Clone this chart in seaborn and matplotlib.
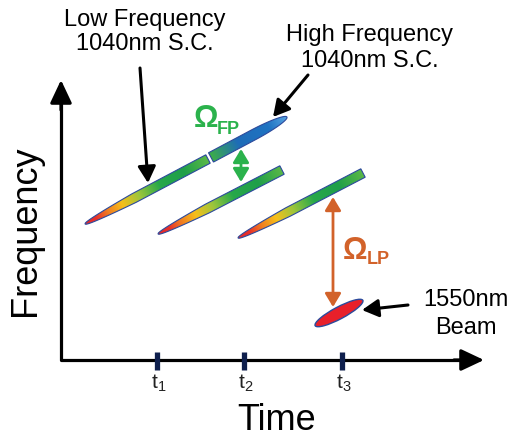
import numpy as np
import matplotlib
matplotlib.use("Agg")
import matplotlib.pyplot as plt
import seaborn as sns
from matplotlib.colors import LinearSegmentedColormap
from matplotlib.patches import Polygon, Ellipse

# ---------------- data (schematic, pixel-like coordinates) ----------------
tick_labels = ["t$_1$", "t$_2$", "t$_3$"]
tick_x = [157, 244, 342]
axis_origin = [61, 360]
axis_x_end = 484
axis_y_end = 80

# low-frequency supercontinuum pulses: red tail -> blunt green end
pulse_tail_x = [85, 158, 238]
pulse_tail_y = [224, 234, 238]
pulse_end_x = [208, 282, 363]
pulse_end_y = [159, 170, 173]
# high-frequency part of the first pulse
hf_start_x, hf_start_y = 211, 157.4
hf_tip_x, hf_tip_y = 287, 117
# 1550 nm beam
beam_x, beam_y = 339, 313
beam_len, beam_wid, beam_ang = 54, 12, -28

# ---------------- style ----------------
sns.set_theme(style="white")
plt.rcParams['font.family'] = ['Liberation Sans', 'DejaVu Sans']
plt.rcParams['mathtext.fontset'] = 'custom'
plt.rcParams['mathtext.rm'] = 'Liberation Sans'

W, H = 518, 441
fig = plt.figure(figsize=(W / 100, H / 100), dpi=100)
ax = fig.add_axes([0, 0, 1, 1])
ax.set_xlim(0, W)
ax.set_ylim(H, 0)
ax.axis('off')

low_cmap = LinearSegmentedColormap.from_list(
    "low", [(0.0, "#e3262a"), (0.09, "#e8322a"), (0.18, "#f07a22"),
            (0.3, "#f6bf1a"), (0.44, "#9cc63c"), (0.6, "#27a84a"),
            (0.8, "#1f9f4a"), (1.0, "#5cb947")])
high_cmap = LinearSegmentedColormap.from_list(
    "high", [(0.0, "#3cad49"), (0.35, "#1e6cb8"), (0.75, "#1f73c2"),
             (1.0, "#5aa6e3")])
EDGE = "#2c4a9c"


def pulse_poly(x0, y0, x1, y1, w, kind):
    dx, dy = x1 - x0, y1 - y0
    L = np.hypot(dx, dy)
    u = np.array([dx, dy]) / L
    n = np.array([-u[1], u[0]])
    s = np.linspace(0, L, 200)
    if kind == "tail":
        t = 0.4 * L
        h = np.where(s < t, (w / 2) * np.clip(s / t, 0, 1) ** 0.45, w / 2)
    else:  # blunt start, pointed tip
        t = 0.45 * L
        r = np.clip((s - (L - t)) / t, 0, 1)
        h = (w / 2) * np.sqrt(np.clip(1 - r ** 2, 0, 1))
    p0 = np.array([x0, y0])
    up = p0 + s[:, None] * u + h[:, None] * n
    dn = p0 + s[:, None] * u - h[:, None] * n
    return np.vstack([up, dn[::-1]]), u, L


def draw_pulse(x0, y0, x1, y1, w, kind, cmap):
    verts, u, L = pulse_poly(x0, y0, x1, y1, w, kind)
    patch = Polygon(verts, closed=True, facecolor="none", edgecolor=EDGE,
                    lw=0.8, zorder=4)
    ax.add_patch(patch)
    xmin, ymin = verts.min(axis=0) - 2
    xmax, ymax = verts.max(axis=0) + 2
    gx = np.linspace(xmin, xmax, int((xmax - xmin) * 4))
    gy = np.linspace(ymin, ymax, int((ymax - ymin) * 4))
    X, Y = np.meshgrid(gx, gy)
    S = ((X - x0) * u[0] + (Y - y0) * u[1]) / L
    img = cmap(np.clip(S, 0, 1))
    im = ax.imshow(img, extent=(xmin, xmax, ymin, ymax), origin='lower',
                   interpolation='bilinear', zorder=3, aspect='auto')
    im.set_clip_path(patch)


for x0, y0, x1, y1 in zip(pulse_tail_x, pulse_tail_y, pulse_end_x, pulse_end_y):
    draw_pulse(x0, y0, x1, y1, 9.5, "tail", low_cmap)
draw_pulse(hf_start_x, hf_start_y, hf_tip_x, hf_tip_y, 10.5, "tip", high_cmap)

ax.add_patch(Ellipse((beam_x, beam_y), beam_len, beam_wid, angle=beam_ang,
                     facecolor="#e8202a", edgecolor=EDGE, lw=1.0, zorder=4))

# ---------------- axes ----------------
ox, oy = axis_origin
sns.lineplot(x=[ox, ox, axis_x_end - 10], y=[axis_y_end + 10, oy, oy],
             color="black", lw=2.3, ax=ax, sort=False, estimator=None)
head = dict(arrowstyle="-|>,head_length=0.7,head_width=0.33", color="black",
            lw=2.3, shrinkA=0, shrinkB=0, mutation_scale=20)
ax.annotate("", xy=(ox, axis_y_end), xytext=(ox, axis_y_end + 30), arrowprops=head)
ax.annotate("", xy=(axis_x_end, oy), xytext=(axis_x_end - 30, oy), arrowprops=head)

ax.vlines(tick_x, oy - 8, oy + 10, color="#0e1f4d", lw=3.8, zorder=5)
for tx, tl in zip(tick_x, tick_labels):
    ax.text(tx + 2, oy + 23, tl, ha="center", va="center", fontsize=15,
            color="#222222")

ax.text(277, 421, "Time", ha="center", va="center", fontsize=26, color="black")
ax.text(26, 231, "Frequency", ha="center", va="center", fontsize=26,
        rotation=90, color="black")

# ---------------- annotations ----------------
ax.text(145, 32, "Low Frequency\n1040nm S.C.", ha="center", va="center",
        fontsize=17, linespacing=1.15, color="black")
ax.text(370, 48, "High Frequency\n1040nm S.C.", ha="center", va="center",
        fontsize=17, linespacing=1.2, color="black")
ax.text(466, 314, "1550nm\nBeam", ha="center", va="center",
        fontsize=17, linespacing=1.3, color="black")

blk = dict(arrowstyle="-|>,head_length=0.55,head_width=0.3", color="black",
           lw=2.2, shrinkA=0, shrinkB=0, mutation_scale=18)
ax.annotate("", xy=(148, 183), xytext=(140, 68), arrowprops=blk)
ax.annotate("", xy=(273, 117), xytext=(308, 75), arrowprops=blk)
ax.annotate("", xy=(362, 310), xytext=(408, 305), arrowprops=blk)

GREEN, ORANGE = "#2bb24c", "#d2622a"
dbl = "<|-|>,head_length=0.5,head_width=0.3"
ax.annotate("", xy=(241, 182), xytext=(241, 149),
            arrowprops=dict(arrowstyle=dbl, color=GREEN, lw=2.0, shrinkA=0,
                            shrinkB=0, mutation_scale=16))
ax.annotate("", xy=(333, 307), xytext=(333, 197),
            arrowprops=dict(arrowstyle=dbl, color=ORANGE, lw=2.0, shrinkA=0,
                            shrinkB=0, mutation_scale=16))

ax.text(206, 119, "Ω", ha="center", va="center", fontsize=22,
        fontweight="bold", color=GREEN)
ax.text(228, 129, "FP", ha="center", va="center", fontsize=13,
        fontweight="bold", color=GREEN)
ax.text(355, 251, "Ω", ha="center", va="center", fontsize=22,
        fontweight="bold", color=ORANGE)
ax.text(378, 260, "LP", ha="center", va="center", fontsize=13,
        fontweight="bold", color=ORANGE)

ax.set_xlim(0, W)
ax.set_ylim(H, 0)
fig.savefig("out.png", dpi=100)
